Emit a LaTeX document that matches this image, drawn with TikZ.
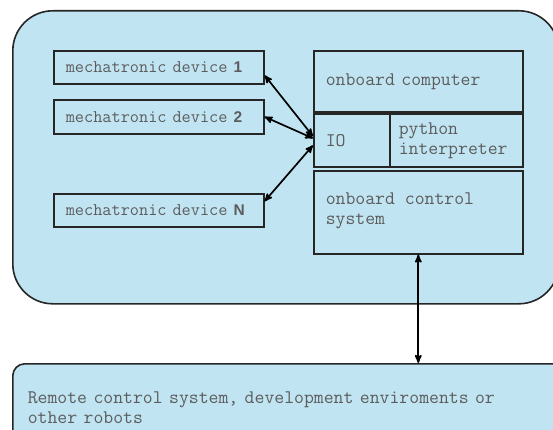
\documentclass[tikz,border=0pt]{standalone}
\usepackage{fontspec}
\newfontfamily\numfont{Liberation Sans}
\usepackage{tikz}
\usetikzlibrary{arrows}
\definecolor{boxblue}{RGB}{192,228,242}
\definecolor{textgray}{RGB}{92,92,92}
\tikzstyle{block} = [rectangle, draw=black!85, fill=boxblue, line width=1.6pt,
    anchor=north west, inner ysep=0pt, align=left, text=textgray]
\tikzstyle{frame} = [rectangle, draw=black!85, fill=boxblue, line width=1.6pt,
    anchor=north west]
\newcommand{\devnum}[1]{{\numfont\bfseries\fontsize{15.5}{18}\selectfont #1}}

\begin{document}
\begin{tikzpicture}[
x=1pt, y=-1pt,
dev/.style = {block, minimum width=210pt, text width=186pt, inner xsep=12pt,
    font=\ttfamily\fontsize{17.8}{20}\selectfont},
part/.style = {block, font=\ttfamily\fontsize{19.2}{20}\selectfont},
link/.style = {draw, line width=1.7pt, stealth'-stealth'},
                        ]
\useasboundingbox (0,0) rectangle (553,430);
\clip (0,0) rectangle (553,430);
% robot
\node [frame, rounded corners=40pt, minimum width=546pt, minimum height=293pt] (robot) at (12,10) {};
% devices
\node [dev, minimum height=33pt] (dev1) at (53,50) {mechatronic device \devnum{1}};
\node [dev, minimum height=34pt] (dev2) at (53,99) {mechatronic device \devnum{2}};
\node [dev, minimum height=33pt] (devN) at (53,193) {mechatronic device \devnum{N}};
% onboard
\node [part, minimum width=209pt, text width=185pt, inner xsep=12pt, minimum height=61pt] (obc) at (313,50) {onboard computer};
\node [part, minimum width=76pt, text width=52pt, inner xsep=12pt, minimum height=53pt] (io) at (313,113) {IO};
\node [part, minimum width=133pt, text width=115pt, inner xsep=9pt, minimum height=53pt] (py) at (389,113) {python\\interpreter};
\node [frame, minimum width=209pt, minimum height=83pt] (ocs) at (313,170) {};
\node [part, draw=none, fill=none, inner sep=0pt] (ocstext) at ([xshift=12pt,yshift=-22pt]ocs.north west) {onboard control\\system};
% outside
\node [part, rounded corners=12pt, minimum width=560pt, text width=530pt, inner xsep=15pt, minimum height=88pt] (remote) at (12,363)
    {Remote control system, development enviroments or\\other robots};
% links
\draw [link] ([yshift=4pt]io.west) -- ([yshift=-8pt]dev1.east);
\draw [link] ([yshift=2pt]io.west) -- (dev2.east);
\draw [link] ([yshift=-5pt]io.west) -- ([yshift=9pt]devN.east);
\draw [link] (ocs.south) -- (ocs.south |- remote.north);
\end{tikzpicture}
\end{document}
